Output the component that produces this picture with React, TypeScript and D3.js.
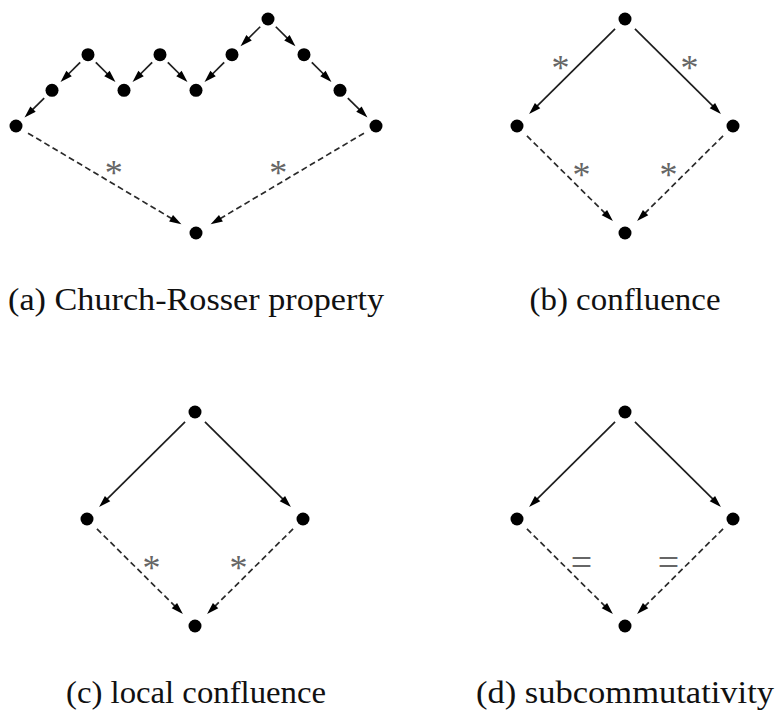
import * as d3 from 'd3';

const WIDTH = 778;
const HEIGHT = 711;

// node positions on a lattice: [column, row]
const crNodes: [number, number][] = [
  [0, 0],
  [-5, 1], [-3, 1], [-1, 1], [1, 1],
  [-6, 2], [-4, 2], [-2, 2], [2, 2],
  [-7, 3], [3, 3],
  [-2, 6],
];
// [from, to, dashed, label]
const crEdges: [number, number, boolean, string][] = [
  [0, 3, false, ''], [0, 4, false, ''],
  [4, 8, false, ''], [8, 10, false, ''],
  [3, 7, false, ''], [2, 7, false, ''],
  [2, 6, false, ''], [1, 6, false, ''],
  [1, 5, false, ''], [5, 9, false, ''],
  [9, 11, true, '*'], [10, 11, true, '*'],
];

const diamondNodes: [number, number][] = [[0, 0], [-3, 3], [3, 3], [0, 6]];
const confluenceEdges: [number, number, boolean, string][] = [
  [0, 1, false, '*'], [0, 2, false, '*'],
  [1, 3, true, '*'], [2, 3, true, '*'],
];
const localEdges: [number, number, boolean, string][] = [
  [0, 1, false, ''], [0, 2, false, ''],
  [1, 3, true, '*'], [2, 3, true, '*'],
];
const subcommEdges: [number, number, boolean, string][] = [
  [0, 1, false, ''], [0, 2, false, ''],
  [1, 3, true, '='], [2, 3, true, '='],
];

const captions = [
  '(a) Church-Rosser property',
  '(b) confluence',
  '(c) local confluence',
  '(d) subcommutativity',
];

// layout of each panel (origin = top node), caption placement
const panels = [
  { nodes: crNodes, edges: crEdges, ox: 268, oy: 19, capX: 196, capY: 310, capW: 376 },
  { nodes: diamondNodes, edges: confluenceEdges, ox: 625, oy: 19, capX: 625, capY: 310, capW: 191 },
  { nodes: diamondNodes, edges: localEdges, ox: 195, oy: 412, capX: 196, capY: 703, capW: 260 },
  { nodes: diamondNodes, edges: subcommEdges, ox: 625, oy: 412, capX: 625, capY: 703, capW: 298 },
];

const UNIT = 36;
const ROWS_H = 214;

function Panel({ p, caption }: { p: (typeof panels)[number]; caption: string }) {
  const x = d3.scaleLinear().domain([0, 1]).range([p.ox, p.ox + UNIT]);
  const y = d3.scaleLinear().domain([0, 6]).range([p.oy, p.oy + ROWS_H]);
  const pts = p.nodes.map(([c, r]) => [x(c), y(r)]);

  return (
    <g>
      {p.edges.map(([a, b, dashed, label], i) => {
        const [x1, y1] = pts[a];
        const [x2, y2] = pts[b];
        const dx = x2 - x1;
        const dy = y2 - y1;
        const len = Math.hypot(dx, dy);
        const ux = dx / len;
        const uy = dy / len;
        const long = len > 100;
        const g0 = long ? 14 : 11;
        const g1 = long ? 17 : 12;
        const sx = x1 + ux * g0;
        const sy = y1 + uy * g0;
        const ex = x2 - ux * g1;
        const ey = y2 - uy * g1;
        // normal pointing upward
        let nx = uy;
        let ny = -ux;
        if (ny > 0) { nx = -nx; ny = -ny; }
        const mx = (x1 + x2) / 2 + nx * 15;
        const my = (y1 + y2) / 2 + ny * 15;
        const isEq = label === '=';
        return (
          <g key={i}>
            <line
              x1={sx} y1={sy} x2={ex - ux * 8} y2={ey - uy * 8}
              stroke={dashed ? '#2a2a2a' : '#1e1e1e'}
              strokeWidth={1.7}
              strokeDasharray={dashed ? '6,3.5' : undefined}
            />
            <path
              d="M0,-3.8L12,0L0,3.8Z"
              fill="#000"
              transform={`translate(${ex - ux * 12},${ey - uy * 12}) rotate(${(Math.atan2(dy, dx) * 180) / Math.PI})`}
            />
            {label && (
              <text
                x={mx}
                y={my + (isEq ? 13 : 18)}
                textAnchor="middle"
                fontFamily="'Liberation Serif', serif"
                fontSize={isEq ? 38 : 36}
                fill="#666"
              >
                {label}
              </text>
            )}
          </g>
        );
      })}
      {pts.map(([cx, cy], i) => (
        <circle key={i} cx={cx} cy={cy} r={6.5} fill="#000" />
      ))}
      <text
        x={p.capX}
        y={p.capY}
        textAnchor="middle"
        fontFamily="'Liberation Serif', serif"
        fontSize={31}
        fill="#111"
        textLength={p.capW}
        lengthAdjust="spacingAndGlyphs"
      >
        {caption}
      </text>
    </g>
  );
}

export default function App() {
  return (
    <svg
      width={WIDTH}
      height={HEIGHT}
      style={{ position: 'absolute', left: 0, top: 0, background: '#fff' }}
    >
      <rect width={WIDTH} height={HEIGHT} fill="#fff" />
      {panels.map((p, i) => (
        <Panel key={i} p={p} caption={captions[i]} />
      ))}
    </svg>
  );
}
